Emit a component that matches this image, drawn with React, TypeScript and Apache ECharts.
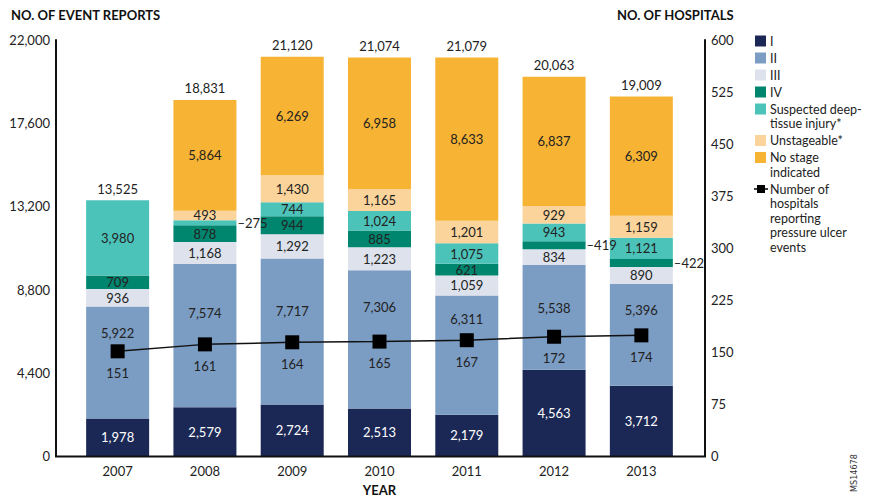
import React, { useEffect, useRef } from "react";
import * as echarts from "echarts";

const years = ["2007", "2008", "2009", "2010", "2011", "2012", "2013"];
const stageI = [1978, 2579, 2724, 2513, 2179, 4563, 3712];
const stageII = [5922, 7574, 7717, 7306, 6311, 5538, 5396];
const stageIII = [936, 1168, 1292, 1223, 1059, 834, 890];
const stageIV = [709, 878, 944, 885, 621, 419, 422];
const deepTissue = [3980, 275, 744, 1024, 1075, 943, 1121];
const unstageable = [0, 493, 1430, 1165, 1201, 929, 1159];
const noStage = [0, 5864, 6269, 6958, 8633, 6837, 6309];
const hospitals = [151, 161, 164, 165, 167, 172, 174];

const seriesNames = [
  "I",
  "II",
  "III",
  "IV",
  "Suspected deep-tissue injury*",
  "Unstageable*",
  "No stage indicated",
  "Number of hospitals reporting pressure ulcer events",
];
const legendLabels = [
  "I",
  "II",
  "III",
  "IV",
  "Suspected deep-\ntissue injury*",
  "Unstageable*",
  "No stage\nindicated",
  "Number of\nhospitals\nreporting\npressure ulcer\nevents",
];
const colors = ["#1b2856", "#7b9cc3", "#dde2ec", "#00866f", "#4cc3b9", "#fad49b", "#f7b334"];
// [series index, year index] of labels drawn beside the bar
const outsideLabels = [
  [4, 1],
  [3, 5],
  [3, 6],
];
// vertical label shift (px) for stage II labels, kept clear of the line markers
const stageIILabelShift = [-30, -23, -21, -32, -36, -9, -25];

const FONT = "Lato";
const fmt = (v: number) => v.toLocaleString("en-US");

export default function App() {
  const ref = useRef<HTMLDivElement>(null);
  useEffect(() => {
    if (!ref.current) return;
    const chart = echarts.init(ref.current, null, { renderer: "svg" });
    const stacks = [stageI, stageII, stageIII, stageIV, deepTissue, unstageable, noStage];
    const totals = years.map((_, i) => stacks.reduce((s, a) => s + a[i], 0));

    const barSeries: any[] = stacks.map((arr, si) => ({
      type: "bar",
      name: seriesNames[si],
      stack: "reports",
      barWidth: 63,
      itemStyle: { color: colors[si] },
      label: {
        show: true,
        position: "inside",
        color: si === 0 ? "#ffffff" : "#222222",
        fontSize: 13,
        fontFamily: FONT,
        formatter: (p: any) => (p.value ? fmt(p.value) : ""),
      },
      data: arr.map((v, i) => {
        const out = outsideLabels.some(([s, k]) => s === si && k === i);
        if (out) {
          return {
            value: v,
            label: { position: "right", distance: 1, color: "#222222", formatter: "–" + fmt(v) },
          };
        }
        if (si === 1) {
          return { value: v, label: { offset: [0, stageIILabelShift[i]] } };
        }
        return v;
      }),
    }));

    barSeries.push({
      type: "bar",
      name: "total",
      stack: "reports",
      barWidth: 63,
      itemStyle: { color: "transparent" },
      data: totals.map(() => 0),
      label: {
        show: true,
        position: "top",
        distance: 5,
        color: "#222222",
        fontSize: 13,
        fontFamily: FONT,
        formatter: (p: any) => fmt(totals[p.dataIndex]),
      },
    });

    barSeries.push({
      type: "line",
      name: seriesNames[7],
      yAxisIndex: 1,
      data: hospitals,
      symbol: "rect",
      symbolSize: 14,
      z: 10,
      lineStyle: { color: "#111111", width: 1.5 },
      itemStyle: { color: "#000000" },
      label: {
        show: true,
        position: "bottom",
        distance: 8,
        color: "#222222",
        fontSize: 13,
        fontFamily: FONT,
      },
    });

    // legend drawn as graphic items
    const legendGraphics: any[] = [];
    let cy = 41;
    legendLabels.forEach((lab, i) => {
      const lines = lab.split("\n").length;
      if (i < 7) {
        legendGraphics.push({
          type: "rect",
          shape: { x: 755, y: cy - 5.5, width: 11, height: 11 },
          style: { fill: colors[i] },
        });
      } else {
        legendGraphics.push({
          type: "line",
          shape: { x1: 754, y1: cy, x2: 768, y2: cy },
          style: { stroke: "#000", lineWidth: 1.5 },
        });
        legendGraphics.push({
          type: "rect",
          shape: { x: 757, y: cy - 4, width: 8, height: 8 },
          style: { fill: "#000" },
        });
      }
      legendGraphics.push({
        type: "text",
        x: 770,
        y: cy - 7.25,
        style: {
          text: lab,
          fill: "#222222",
          font: `12.5px ${FONT}`,
          lineHeight: 14.5,
          verticalAlign: "top",
        },
      });
      cy += 17 + (lines - 1) * 14.5;
    });

    chart.setOption({
      animation: false,
      textStyle: { fontFamily: FONT },
      grid: { left: 74, right: 185, top: 40, bottom: 46 },
      xAxis: {
        type: "category",
        data: years,
        axisLine: { show: false },
        axisTick: { show: false },
        axisLabel: { color: "#222222", fontSize: 13, fontFamily: FONT, margin: 8 },
        name: "YEAR",
        nameLocation: "middle",
        nameGap: 27,
        nameTextStyle: { color: "#111111", fontSize: 13, fontWeight: "bold", fontFamily: FONT },
      },
      yAxis: [
        {
          type: "value",
          min: 0,
          max: 22000,
          interval: 4400,
          offset: 18,
          axisLine: { show: true, lineStyle: { color: "#111111", width: 2 } },
          axisTick: { show: false },
          splitLine: { show: false },
          axisLabel: {
            color: "#222222",
            fontSize: 13,
            fontFamily: FONT,
            margin: 6,
            formatter: (v: number) => fmt(v),
          },
        },
        {
          type: "value",
          min: 0,
          max: 600,
          interval: 75,
          offset: 20,
          position: "right",
          axisLine: { show: true, lineStyle: { color: "#111111", width: 2 } },
          axisTick: { show: false },
          splitLine: { show: false },
          axisLabel: { color: "#222222", fontSize: 13, fontFamily: FONT, margin: 6 },
        },
      ],
      series: barSeries,
      graphic: [
        {
          type: "line",
          shape: { x1: 55, y1: 456.5, x2: 706, y2: 456.5 },
          style: { stroke: "#111111", lineWidth: 2 },
          z: 5,
        },
        {
          type: "text",
          x: 11,
          y: 8,
          style: { text: "NO. OF EVENT REPORTS", fill: "#111111", font: `bold 13px ${FONT}` },
        },
        {
          type: "text",
          x: 617,
          y: 8,
          style: { text: "NO. OF HOSPITALS", fill: "#111111", font: `bold 13px ${FONT}` },
        },
        {
          type: "text",
          x: 849,
          y: 492,
          rotation: Math.PI / 2,
          style: {
            text: "MS14678",
            fill: "#333333",
            font: `9px 'Liberation Sans Narrow', 'DejaVu Sans Condensed', sans-serif`,
          },
        },
        ...legendGraphics,
      ],
    });
    return () => chart.dispose();
  }, []);
  return (
    <div
      ref={ref}
      style={{ position: "absolute", left: 0, top: 0, width: 870, height: 502, background: "#fff" }}
    />
  );
}
